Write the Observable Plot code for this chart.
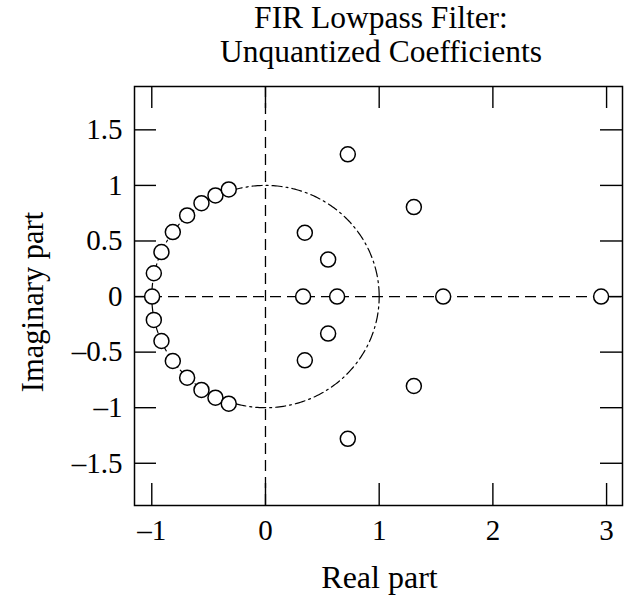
<!DOCTYPE html>
<html><head><meta charset="utf-8">
<script src="https://cdn.jsdelivr.net/npm/d3@7"></script>
<script src="https://cdn.jsdelivr.net/npm/@observablehq/plot@0.6"></script>
<style>
body{margin:0;background:#fff;}
#wrap{position:relative;width:631px;height:596px;font-family:"Liberation Serif","Times New Roman",serif;}
.title{position:absolute;left:137px;width:488px;text-align:center;font-size:31.5px;line-height:34px;top:1px;color:#000;white-space:nowrap;}
#chart{position:absolute;left:0;top:0;}
</style></head><body>
<div id="wrap"><div id="chart"></div><div class="title" id="title"></div></div>
<script>
const titleLines = ["FIR Lowpass Filter:", "Unquantized Coefficients"];
const xLabel = "Real part";
const yLabel = "Imaginary part";

// zeros
const zerosRe = [-0.997, -0.982, -0.915, -0.815, -0.689, -0.563, -0.44, -0.323,
                 -0.982, -0.915, -0.815, -0.689, -0.563, -0.44, -0.323,
                 0.331, 0.63, 1.563, 2.952,
                 0.346, 0.346, 0.551, 0.551, 0.724, 0.724, 1.305, 1.305];
const zerosIm = [0, 0.21, 0.40, 0.58, 0.73, 0.84, 0.91, 0.964,
                 -0.21, -0.40, -0.58, -0.73, -0.84, -0.91, -0.964,
                 0, 0, 0, 0,
                 0.574, -0.574, 0.333, -0.333, 1.28, -1.28, 0.805, -0.805];

const xTicks = [-1, 0, 1, 2, 3];
const yTicks = [-1.5, -1, -0.5, 0, 0.5, 1, 1.5];
const xDomain = [-1.152, 3.14];
const yDomain = [-1.88, 1.89];

// unit circle reference curve (angles in degrees)
const circleAngles = d3.range(0, 361, 1);

document.getElementById("title").innerHTML = titleLines.join("<br>");

const W = 631, H = 596, mL = 134, mR = 9, mT = 86, mB = 91;
const frameW = W - mL - mR, frameH = H - mT - mB, tickLen = 22;
const font = '"Liberation Serif","Times New Roman",serif';
const fmt = d => d < 0 ? "\u2013" + (-d) : String(d);

const zeros = zerosRe.map((re, i) => ({re, im: zerosIm[i]}));
const circle = circleAngles.map(a => ({re: Math.cos(a * Math.PI / 180), im: Math.sin(a * Math.PI / 180)}));

const chart = Plot.plot({
  width: W, height: H,
  marginLeft: mL, marginRight: mR, marginTop: mT, marginBottom: mB,
  style: {fontFamily: font, background: "#fff", color: "#000"},
  x: {domain: xDomain},
  y: {domain: yDomain},
  marks: [
    Plot.line(circle, {x: "re", y: "im", stroke: "#000", strokeWidth: 1.2, strokeDasharray: "10,4,2,4"}),
    Plot.ruleX([0], {stroke: "#000", strokeWidth: 1.3, strokeDasharray: "11,6"}),
    Plot.ruleY([0], {stroke: "#000", strokeWidth: 1.3, strokeDasharray: "11,6"}),
    Plot.tickX(xTicks, {x: d => d, insetTop: frameH - tickLen, stroke: "#000", strokeWidth: 1.4}),
    Plot.tickX(xTicks, {x: d => d, insetBottom: frameH - tickLen, stroke: "#000", strokeWidth: 1.4}),
    Plot.tickY(yTicks, {y: d => d, insetRight: frameW - tickLen, stroke: "#000", strokeWidth: 1.4}),
    Plot.tickY(yTicks, {y: d => d, insetLeft: frameW - tickLen, stroke: "#000", strokeWidth: 1.4}),
    Plot.frame({stroke: "#000", strokeWidth: 1.5}),
    Plot.dot(zeros, {x: "re", y: "im", r: 7.5, fill: "#fff", stroke: "#000", strokeWidth: 1.5}),
    Plot.axisX({ticks: xTicks, tickSize: 0, tickPadding: 14, tickFormat: fmt, fontSize: 29, label: null, fill: "#000"}),
    Plot.axisY({ticks: yTicks, tickSize: 0, tickPadding: 12, tickFormat: fmt, fontSize: 29, label: null, fill: "#000"}),
    Plot.text([xLabel], {text: d => d, frameAnchor: "bottom", lineAnchor: "bottom", dx: 1, dy: 82, fontSize: 32, fill: "#000"}),
    Plot.text([yLabel], {text: d => d, frameAnchor: "left", textAnchor: "middle", rotate: -90, dx: -101, dy: 6, fontSize: 30.5, fill: "#000"})
  ]
});
document.getElementById("chart").appendChild(chart);
</script>
</body></html>
